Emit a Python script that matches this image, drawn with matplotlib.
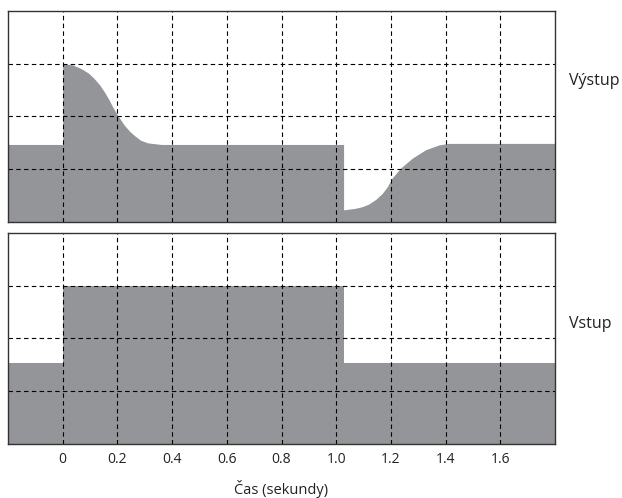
import matplotlib
matplotlib.use("Agg")
import matplotlib.pyplot as plt

plt.rcParams['font.family'] = ['Open Sans', 'DejaVu Sans']

# output signal (Výstup)
out_t = [-0.2, 0.0, 0.0, 0.035, 0.067, 0.095, 0.115, 0.135, 0.152, 0.168, 0.183, 0.201,
         0.226, 0.245, 0.262, 0.285, 0.311, 0.36, 1.027, 1.027, 1.07, 1.095, 1.119,
         1.145, 1.168, 1.187, 1.204, 1.235, 1.278, 1.327, 1.375, 1.412, 1.8]
out_v = [1.47, 1.47, 3.0, 2.98, 2.91, 2.82, 2.72, 2.60, 2.47, 2.33, 2.18, 2.02,
         1.83, 1.72, 1.64, 1.55, 1.50, 1.47, 1.47, 0.23, 0.26, 0.29, 0.34,
         0.43, 0.54, 0.67, 0.83, 1.02, 1.21, 1.37, 1.46, 1.49, 1.49]

# input signal (Vstup)
in_t = [-0.2, 0.0, 0.0, 1.027, 1.027, 1.8]
in_v = [1.53, 1.53, 3.0, 3.0, 1.53, 1.53]

xticks = [0, 0.2, 0.4, 0.6, 0.8, 1.0, 1.2, 1.4, 1.6]
xlabels = ['0', '0.2', '0.4', '0.6', '0.8', '1.0', '1.2', '1.4', '1.6']

fill_c = '#939598'

fig = plt.figure(figsize=(6.22, 4.98), dpi=100)
ax1 = fig.add_axes([8/622, 1-222/498, 547/622, 211/498])
ax2 = fig.add_axes([8/622, 1-444/498, 547/622, 211.3/498])

for ax, t, v, name, ly in [(ax1, out_t, out_v, 'Výstup', 0.67), (ax2, in_t, in_v, 'Vstup', 0.57)]:
    ax.fill_between(t, 0, v, color=fill_c, lw=0, zorder=1)
    ax.set_xlim(-0.2, 1.8)
    ax.set_ylim(0, 4)
    ax.set_yticks([1, 2, 3])
    ax.set_yticklabels([])
    ax.set_xticks(xticks)
    ax.grid(True, color='black', linestyle=(0, (4, 3)), linewidth=0.8, zorder=3)
    ax.set_axisbelow(False)
    ax.tick_params(length=0)
    for s in ax.spines.values():
        s.set_color('#333333')
        s.set_linewidth(1.0)
        s.set_zorder(4)
    ax.text(1.025, ly, name, transform=ax.transAxes, fontsize=11.5,
            va='center', ha='left', color='#222222')

ax1.set_xticklabels([])
ax2.set_xticklabels(xlabels, fontsize=10, color='#222222')
ax2.tick_params(axis='x', pad=6)
ax2.set_xlabel('Čas (sekundy)', fontsize=10.5, color='#222222', labelpad=9)

fig.savefig('out.png', dpi=100)
